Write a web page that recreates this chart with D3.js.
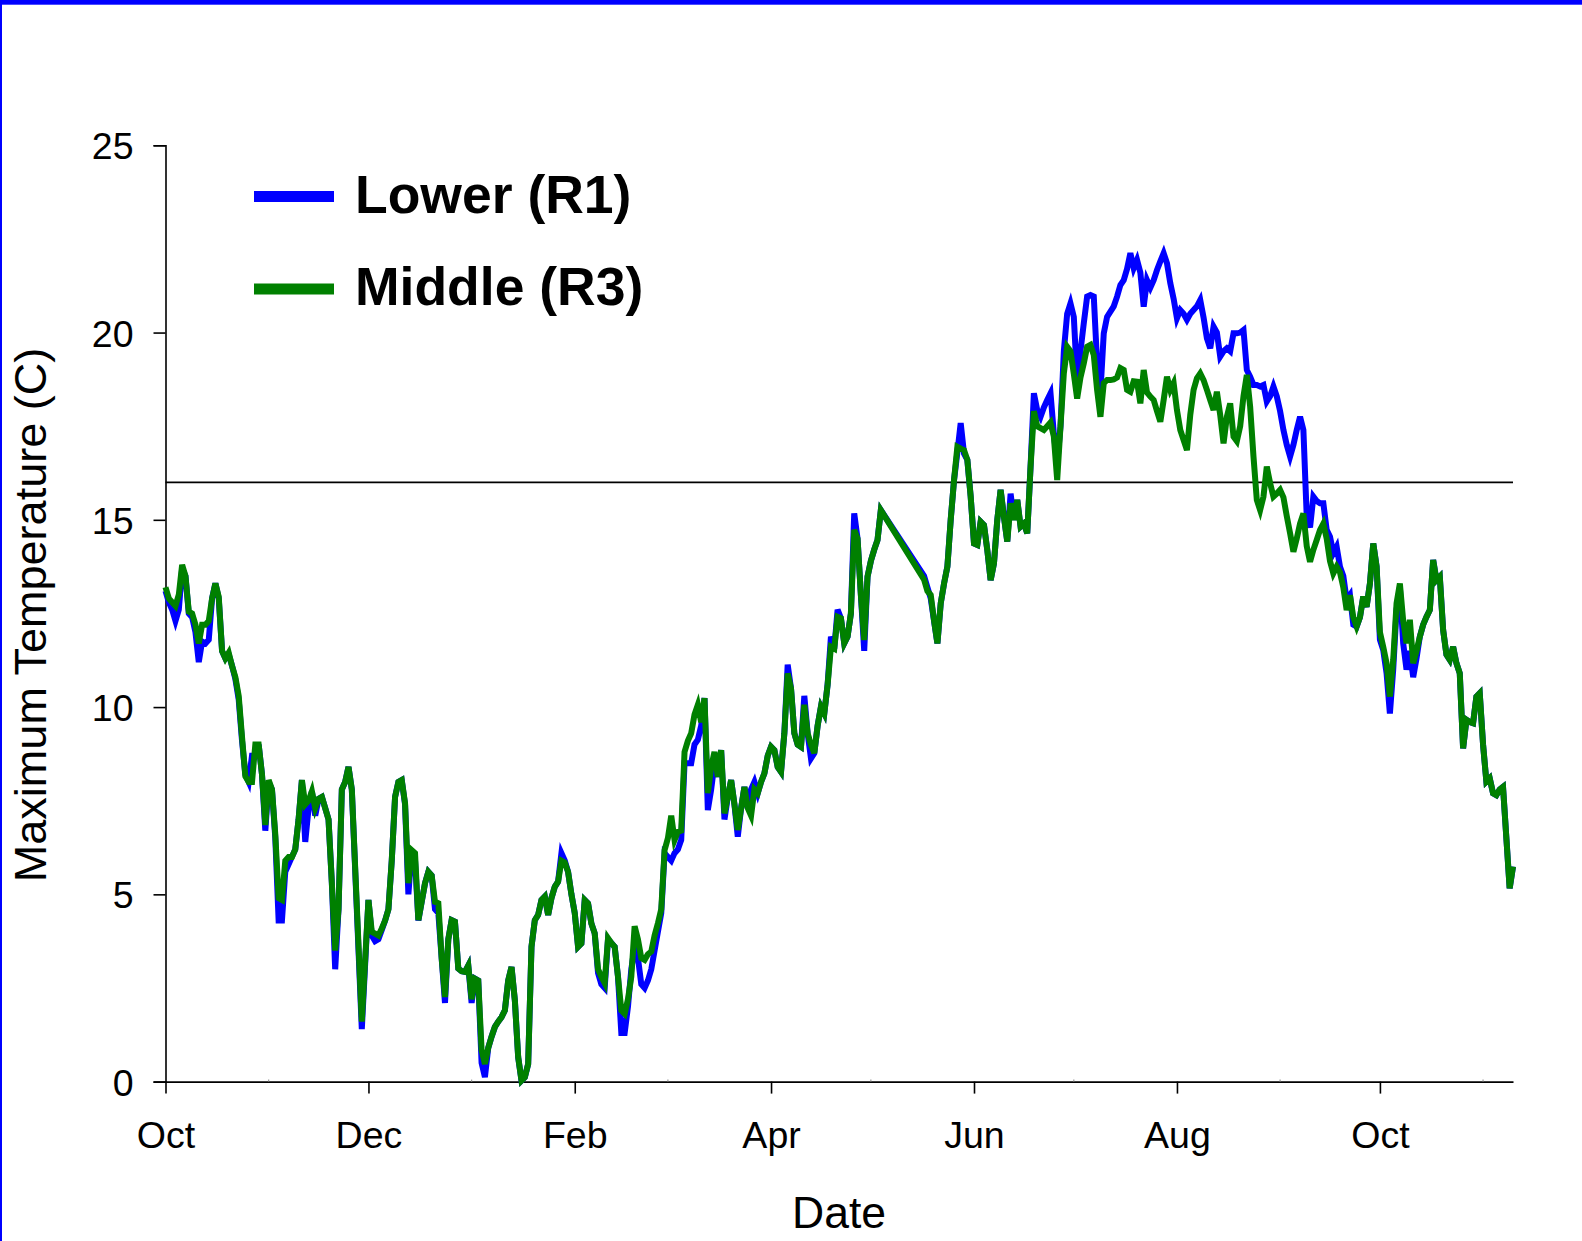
<!DOCTYPE html>
<html>
<head>
<meta charset="utf-8">
<script src="https://cdn.jsdelivr.net/npm/d3@7"></script>
<style>
html,body{margin:0;padding:0;background:#fff;}
svg{display:block;}
text{font-family:"Liberation Sans",Arial,Helvetica,sans-serif;}
</style>
</head>
<body>
<svg id="chart" width="1582" height="1241"></svg>
<script>
// ---- data (day offsets from 1 Oct) ----
const startDate = Date.UTC(2004, 9, 1);
const endDay = 405;
const days = [0,1,2,3,4,5,6,7,8,9,10,11,12,13,14,15,16,17,18,19,20,21,22,23,24,25,26,27,28,29,30,
31,32,33,34,35,36,37,38,39,40,41,42,43,44,45,46,47,48,49,50,51,52,53,54,55,56,59,61,62,63,64,65,66,67,68,69,70,
71,72,73,74,75,76,77,78,79,80,81,82,83,84,85,86,87,88,89,90,91,92,93,94,95,96,97,98,99,100,
101,102,103,104,105,106,107,108,109,110,111,112,113,114,115,116,117,118,119,120,121,122,123,124,125,126,127,128,129,130,
131,132,133,134,135,136,137,138,139,140,141,142,143,144,145,146,147,148,149,150,151,152,153,154,155,156,157,158,159,160,
161,162,163,164,165,166,167,168,169,170,171,172,173,174,175,176,177,178,179,180,181,182,183,184,185,186,187,188,189,190,
191,192,193,194,195,196,197,198,199,200,201,202,203,204,205,206,207,208,209,210,211,212,213,214,215,
228,229,230,231,232,233,234,235,236,237,238,239,240,241,242,243,244,245,246,247,248,249,250,
251,252,253,254,255,256,257,258,259,260,261,262,263,264,265,266,267,268,269,270,271,272,273,274,275,276,277,278,279,280,
281,282,283,284,285,286,287,288,289,290,291,292,293,294,295,296,297,298,299,300,301,302,303,304,305,306,307,308,309,310,
311,312,313,314,315,316,317,318,319,320,321,322,323,324,325,326,327,328,329,330,331,332,333,334,335,336,337,338,339,340,
341,342,343,344,345,346,347,348,349,350,351,352,353,354,355,356,357,358,359,360,361,362,363,364,365,366,367,368,369,370,
371,372,373,374,375,376,377,378,379,380,381,382,383,384,385,386,387,388,389,390,391,392,393,394,395,396,397,398,399,400,
401,402,404,405];

const lower = [13.1,12.8,12.6,12.3,12.6,13.7,13.5,12.5,12.4,12.0,11.2,11.75,11.7,11.8,12.9,13.3,12.9,11.5,11.3,11.4,11.1,10.75,10.2,9.1,8.2,8.0,8.7,8.7,9.0,8.2,6.7,
8.0,7.8,6.5,4.3,4.3,5.6,5.8,6.0,6.2,7.0,8.05,6.4,7.3,7.75,7.1,7.55,7.6,7.3,7.0,5.3,3.0,4.6,7.8,8.0,8.4,7.8,1.4,4.85,3.9,3.75,3.8,4.05,4.3,4.6,5.9,7.6,8.0,
8.05,7.4,5.0,6.18,5.9,4.3,4.8,5.3,5.6,5.5,4.6,4.5,3.3,2.1,3.8,4.31,4.27,3.02,2.95,2.93,3.1,2.1,2.75,2.7,0.5,0.12,0.9,1.2,1.46,1.6,
1.72,1.9,2.7,3.06,2.17,0.65,0.03,0.12,0.47,3.6,4.31,4.45,4.85,4.94,4.45,4.9,5.2,5.34,6.1,5.9,5.6,5.0,4.5,3.6,3.69,4.85,4.76,4.22,3.96,2.9,
2.6,2.5,3.8,3.7,3.6,2.8,1.3,1.3,2.0,3.0,3.6,3.3,2.6,2.5,2.7,3.0,3.5,4.0,4.5,6.1,6.0,5.9,6.1,6.2,6.45,8.5,8.5,8.5,9.0,9.13,
9.5,10.24,7.25,7.8,8.5,8.14,8.85,7.0,7.6,8.05,7.4,6.54,7.3,7.87,7.3,7.8,8.0,7.7,8.0,8.23,8.7,8.94,8.85,8.4,8.27,9.3,11.13,10.5,9.3,9.0,
8.94,10.3,9.3,8.63,8.77,9.5,10.01,9.83,10.6,11.88,11.56,12.6,12.37,11.7,11.88,12.5,15.17,14.5,13.0,11.5,13.48,13.9,14.2,14.46,15.26,
13.5,13.2,12.9,12.3,11.7,12.77,13.3,13.75,15.0,16.06,16.8,17.58,16.77,16.6,15.62,14.37,14.33,14.95,14.86,14.19,13.39,13.84,15.0,
15.8,15.08,14.42,15.7,15.0,15.53,14.82,14.9,14.64,16.42,18.38,17.93,17.75,18.0,18.2,18.38,17.3,16.5,17.5,19.5,20.5,20.78,20.42,18.7,19.5,20.25,20.96,21.0,20.96,19.18,
18.42,19.98,20.42,20.56,20.7,20.96,21.27,21.4,21.7,22.12,21.72,21.94,21.6,20.69,21.4,21.2,21.4,21.67,21.9,22.12,21.85,21.32,20.9,20.38,20.6,20.5,20.34,20.5,20.6,20.7,
20.87,20.4,19.85,19.58,20.16,20.0,19.36,19.5,19.58,19.5,19.98,19.98,20.0,20.07,19.0,18.82,18.6,18.6,18.56,18.6,18.16,18.3,18.56,18.3,17.9,17.4,17.0,16.69,17.0,17.4,
17.75,17.4,15.1,14.8,15.62,15.5,15.44,15.44,14.73,14.55,14.11,14.28,13.75,13.5,12.86,12.99,12.2,12.15,12.4,12.95,12.68,13.3,14.37,13.75,11.8,11.52,10.9,9.83,11.0,12.6,
13.2,11.7,11.0,11.5,10.8,11.3,11.88,12.2,12.41,12.59,13.93,13.39,13.48,12.06,11.4,11.26,11.61,11.17,10.9,8.9,9.66,9.6,9.57,10.28,10.37,9.0,8.01,8.1,7.7,7.65,
7.8,7.87,5.16,5.74];

const middle = [13.2,12.9,12.8,12.7,13.0,13.8,13.5,12.55,12.5,12.2,11.7,12.2,12.2,12.3,12.9,13.3,12.95,11.5,11.3,11.45,11.1,10.8,10.3,9.2,8.15,8.0,8.0,9.0,9.0,8.2,6.85,
8.05,7.8,6.6,4.9,4.85,5.9,6.0,6.0,6.2,7.0,8.05,7.4,7.5,7.75,7.3,7.55,7.6,7.3,7.0,5.3,3.5,4.6,7.8,8.0,8.4,7.8,1.6,4.85,4.0,3.95,3.9,4.09,4.3,4.6,5.9,7.6,8.0,
8.05,7.43,5.3,6.18,6.1,4.31,4.8,5.3,5.6,5.5,4.8,4.76,3.3,2.26,3.8,4.31,4.27,3.02,2.95,2.93,3.1,2.2,2.75,2.7,0.85,0.47,0.9,1.2,1.46,1.6,
1.72,1.9,2.7,3.06,2.17,0.65,0.03,0.12,0.47,3.6,4.31,4.45,4.85,4.94,4.45,4.9,5.2,5.34,5.9,5.85,5.6,5.0,4.5,3.6,3.69,4.85,4.76,4.22,3.96,3.0,
2.8,2.63,3.83,3.7,3.6,2.8,1.9,1.81,2.2,2.8,4.15,3.8,3.3,3.25,3.4,3.47,3.9,4.23,4.6,6.18,6.5,7.1,6.45,6.67,6.7,8.8,9.1,9.3,9.8,10.06,
9.6,10.24,7.7,8.4,8.8,8.14,8.85,7.16,7.6,8.05,7.4,6.72,7.3,7.87,7.3,7.1,7.8,7.7,8.0,8.23,8.7,8.94,8.85,8.4,8.27,9.3,10.9,10.5,9.3,9.0,
8.94,10.06,9.3,9.0,8.77,9.5,10.01,9.83,10.6,11.61,11.56,12.41,12.37,11.7,11.88,12.5,14.73,14.5,13.0,11.79,13.48,13.9,14.2,14.46,15.26,
13.4,13.1,12.99,12.3,11.7,12.77,13.3,13.75,15.0,16.06,16.95,16.9,16.86,16.6,15.62,14.37,14.33,14.95,14.86,14.19,13.39,13.84,15.0,
15.8,15.08,14.42,15.44,15.0,15.53,14.82,14.9,14.64,16.42,17.9,17.5,17.45,17.4,17.5,17.6,17.22,16.06,17.5,18.91,19.62,19.5,18.9,18.24,18.8,19.18,19.62,19.67,19.4,18.47,
17.75,18.65,18.73,18.73,18.75,18.8,19.05,19.0,18.47,18.42,18.7,18.69,18.11,19.0,18.4,18.29,18.2,17.9,17.62,18.2,18.82,18.47,18.65,17.93,17.4,17.13,16.86,17.8,18.47,18.78,
18.91,18.73,18.47,18.2,17.93,18.42,17.8,17.04,17.75,18.11,17.22,17.1,17.5,18.3,18.87,18.02,16.69,15.53,15.26,15.62,16.42,15.98,15.62,15.7,15.8,15.6,15.1,14.64,14.15,14.5,
14.9,15.17,14.3,13.88,14.2,14.46,14.73,14.9,14.5,13.9,13.57,13.75,13.6,13.2,12.59,12.99,12.4,12.15,12.4,12.95,12.68,13.3,14.37,13.75,12.0,11.61,11.17,10.28,11.26,12.77,
13.3,12.3,11.7,12.33,11.17,11.5,11.88,12.2,12.41,12.59,13.93,13.39,13.48,12.06,11.4,11.26,11.61,11.17,10.9,8.9,9.66,9.6,9.57,10.28,10.37,9.0,8.01,8.1,7.7,7.65,
7.8,7.87,5.16,5.74];

const yTickValues = [0,5,10,15,20,25];
const monthLabels = ["Oct","Dec","Feb","Apr","Jun","Aug","Oct"];
const seriesNames = ["Lower (R1)","Middle (R3)"];
const seriesColors = ["#0000ff","#008000"];
const thresholdValue = 16;

// ---- layout ----
const svg = d3.select("#chart");
const W = 1582, H = 1241;
const plotLeft = 165.5, plotRight = 1513, plotTop = 145.3, plotBottom = 1081.6;
const fontFam = '"Liberation Sans",Arial,Helvetica,sans-serif';

svg.append("rect").attr("width", W).attr("height", H).attr("fill", "#fff");
// frame (blue border visible at top & left)
svg.append("rect").attr("x",0).attr("y",0).attr("width",W).attr("height",4.7).attr("fill","#0000ff");
svg.append("rect").attr("x",0).attr("y",0).attr("width",2).attr("height",H).attr("fill","#0000ff");

const toDate = d => new Date(startDate + d * 86400000);
const x = d3.scaleUtc().domain([toDate(0), toDate(endDay)]).range([plotLeft, plotRight]);
const y = d3.scaleLinear().domain([0, 25]).range([plotBottom, plotTop]);

// y axis
const yAxis = d3.axisLeft(y).tickValues(yTickValues).tickSize(12).tickPadding(20).tickFormat(d3.format("d"));
const gy = svg.append("g").attr("transform", `translate(${plotLeft},0)`).call(yAxis);
gy.select(".domain").attr("stroke","#000").attr("stroke-width",1.6);
gy.selectAll(".tick line").attr("stroke","#000").attr("stroke-width",1.6);
gy.selectAll(".tick text").attr("font-size",37.5).attr("font-family",fontFam).attr("fill","#000").attr("dy","0.36em");

// x axis: major ticks on Oct, Dec, Feb, ... (odd month indices)
const allMonths = d3.utcMonth.range(toDate(0), toDate(endDay + 1));
const majorTicks = allMonths.filter(d => d.getUTCMonth() % 2 === 1);
const minorTicks = allMonths.filter(d => d.getUTCMonth() % 2 === 0);
const xAxis = d3.axisBottom(x).tickValues(majorTicks).tickSize(12).tickSizeOuter(0)
  .tickFormat((d,i) => monthLabels[i]);
const gx = svg.append("g").attr("transform", `translate(0,${plotBottom})`).call(xAxis);
gx.select(".domain").attr("stroke","#000").attr("stroke-width",1.6);
gx.selectAll(".tick line").attr("stroke","#000").attr("stroke-width",1.6);
gx.selectAll(".tick text").attr("font-size",37.5).attr("font-family",fontFam).attr("fill","#000")
  .attr("y", 66.4).attr("dy", 0);

// minor ticks (between labelled months)
svg.append("g").selectAll("line").data(minorTicks).join("line")
  .attr("x1", d => x(d)).attr("x2", d => x(d))
  .attr("y1", plotBottom - 2).attr("y2", plotBottom)
  .attr("stroke", "#999").attr("stroke-width", 1.2);

// threshold line
svg.append("line").attr("x1", plotLeft).attr("x2", plotRight)
  .attr("y1", y(thresholdValue)).attr("y2", y(thresholdValue))
  .attr("stroke","#000").attr("stroke-width",1.6);

// series
const lineGen = d3.line().x(d => x(toDate(d[0]))).y(d => y(d[1]));
const lowerPts = days.map((d,i) => [d, lower[i]]);
const middlePts = days.map((d,i) => [d, middle[i]]);
[lowerPts, middlePts].forEach((pts, i) => {
  svg.append("path").datum(pts).attr("d", lineGen)
    .attr("fill","none").attr("stroke", seriesColors[i]).attr("stroke-width", 6)
    .attr("stroke-linejoin","miter").attr("stroke-miterlimit", 4);
});

// axis titles
svg.append("text").attr("x", 839).attr("y", 1228).attr("text-anchor","middle")
  .attr("font-size", 44.5).attr("font-family", fontFam).attr("fill","#000").text("Date");
svg.append("text").attr("transform","translate(46,615) rotate(-90)").attr("text-anchor","middle")
  .attr("font-size", 45).attr("font-family", fontFam).attr("fill","#000").text("Maximum Temperature (C)");

// legend
const legY = [196.5, 289];
seriesNames.forEach((name, i) => {
  svg.append("line").attr("x1", 254).attr("x2", 334).attr("y1", legY[i]).attr("y2", legY[i])
    .attr("stroke", seriesColors[i]).attr("stroke-width", 11);
  svg.append("text").attr("x", 355).attr("y", legY[i] + 16)
    .attr("font-size", 53.5).attr("font-weight","bold").attr("font-family", fontFam).attr("fill","#000").text(name);
});
</script>
</body>
</html>
